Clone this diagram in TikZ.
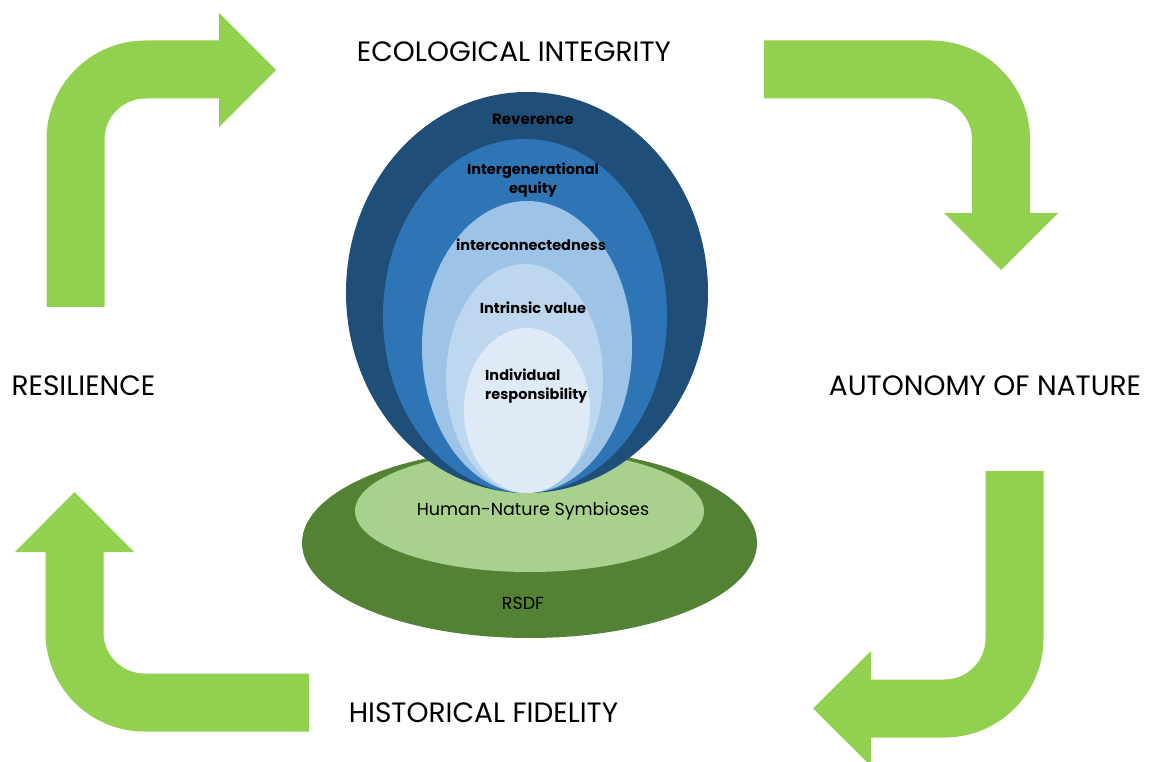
\documentclass[tikz,border=0pt]{standalone}
\usepackage{fontspec}
\setmainfont{Poppins}
\usetikzlibrary{shapes.geometric}
\definecolor{arrowgreen}{HTML}{92D050}
\definecolor{blueA}{HTML}{1F4E79}
\definecolor{blueB}{HTML}{2E75B6}
\definecolor{blueC}{HTML}{9DC3E6}
\definecolor{blueD}{HTML}{BDD7EE}
\definecolor{blueE}{HTML}{DEEBF7}
\definecolor{greenA}{HTML}{548235}
\definecolor{greenB}{HTML}{A9D18E}
\tikzset{
  bendarrow/.style={draw=arrowgreen, line width=58pt, rounded corners=70pt},
  arrowhead/.style={fill=arrowgreen},
  biglabel/.style={font=\fontsize{28}{32}\selectfont, text=black, inner sep=0pt},
  ringlabel/.style={font=\fontsize{14.5}{18.5}\selectfont\bfseries, text=black, inner sep=0pt, align=center},
  baselabel/.style={font=\fontsize{17.5}{20}\selectfont, text=black, inner sep=0pt}
}
\begin{document}
\begin{tikzpicture}[x=1pt,y=-1pt]
\useasboundingbox (0,0) rectangle (1152,762);
\clip (0,0) rectangle (1152,762);
% arrows
\draw[bendarrow] (75.5,307) -- (75.5,69.5) -- (220,69.5);
\fill[arrowhead] (219,13) -- (276,70) -- (219,127) -- cycle;
\draw[bendarrow] (764,69.5) -- (1001,69.5) -- (1001,214);
\fill[arrowhead] (944,213) -- (1058,213) -- (1001,270) -- cycle;
\draw[bendarrow] (1014.5,471) -- (1014.5,708.5) -- (870,708.5);
\fill[arrowhead] (871,651) -- (813,708.5) -- (871,766) -- cycle;
\draw[bendarrow] (309,702.5) -- (74.5,702.5) -- (74.5,551);
\fill[arrowhead] (15,552) -- (134,552) -- (74.5,492) -- cycle;
% green base
\fill[greenA] (529.5,543) ellipse [x radius=227.5pt, y radius=95pt];
\fill[greenB] (529.5,511) ellipse [x radius=174.5pt, y radius=61pt];
% blue rings
\fill[blueA] (527,292.5) ellipse [x radius=181pt, y radius=200.5pt];
\fill[blueB] (525,316) ellipse [x radius=142pt, y radius=177pt];
\fill[blueC] (527,347) ellipse [x radius=105pt, y radius=146pt];
\fill[blueD] (524.5,378.5) ellipse [x radius=78.5pt, y radius=114.5pt];
\fill[blueE] (527,410.5) ellipse [x radius=63pt, y radius=82.5pt];
% labels
\node[biglabel] (eco) at (514,52) {ECOLOGICAL INTEGRITY};
\node[biglabel] (aut) at (985,386) {AUTONOMY OF NATURE};
\node[biglabel] (res) at (83.5,386) {RESILIENCE};
\node[biglabel] (his) at (483.5,713) {HISTORICAL FIDELITY};
\node[ringlabel, font=\fontsize{15}{18.5}\selectfont\bfseries] (rev) at (533,119) {Reverence};
\node[ringlabel] (ieq) at (533,180) {Intergenerational\\equity};
\node[ringlabel] (int) at (531,245) {interconnectedness};
\node[ringlabel] (ival) at (533,308) {Intrinsic value};
\node[ringlabel, align=left, anchor=west] (ind) at (485,386) {Individual\\responsibility};
\node[baselabel] (hns) at (533,511) {Human-Nature Symbioses};
\node[baselabel] (rsdf) at (523,603) {RSDF};
\end{tikzpicture}
\end{document}
